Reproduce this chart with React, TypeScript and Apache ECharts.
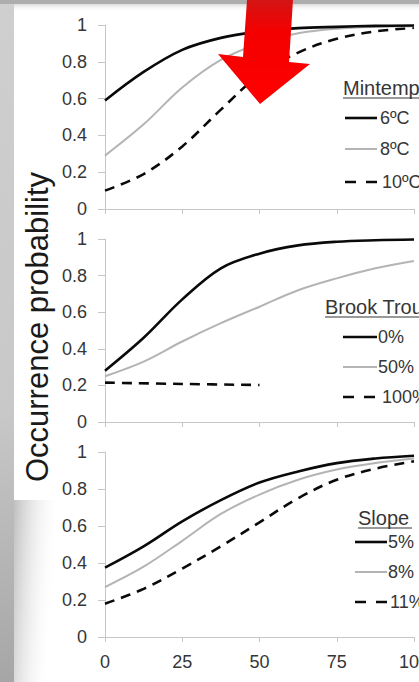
import React, { useEffect, useRef } from "react";
import * as echarts from "echarts";

// ---- data ----
const xValues = [0, 12.5, 25, 37.5, 50, 62.5, 75, 87.5, 100];
const mintemp6 = [0.59, 0.745, 0.865, 0.93, 0.965, 0.983, 0.99, 0.995, 0.997];
const mintemp8 = [0.29, 0.46, 0.66, 0.81, 0.9, 0.955, 0.98, 0.99, 0.993];
const mintemp10 = [0.1, 0.19, 0.34, 0.54, 0.73, 0.85, 0.925, 0.965, 0.985];
const trout0 = [0.28, 0.46, 0.67, 0.84, 0.92, 0.965, 0.985, 0.993, 0.997];
const trout50 = [0.25, 0.33, 0.44, 0.54, 0.63, 0.72, 0.785, 0.84, 0.88];
const trout100X = [0, 25, 50];
const trout100 = [0.215, 0.208, 0.202];
const slope5 = [0.375, 0.49, 0.625, 0.74, 0.835, 0.895, 0.94, 0.965, 0.98];
const slope8 = [0.27, 0.38, 0.52, 0.665, 0.77, 0.85, 0.905, 0.94, 0.965];
const slope11 = [0.18, 0.26, 0.37, 0.49, 0.62, 0.75, 0.85, 0.91, 0.95];

const legendTitles = ["Mintemp", "Brook Trout", "Slope"];
const mintempLabels = ["6ºC", "8ºC", "10ºC"];
const troutLabels = ["0%", "50%", "100%"];
const slopeLabels = ["5%", "8%", "11%"];
const yAxisTitle = "Occurrence probability";

const FONT = "Liberation Sans, Arial, sans-serif";
const TEXT = "#363636";
const BLACK = "#0a0a0a";
const GREY = "#b4b4b4";
const AXIS = "#c6c6c6";

const pairs = (xs: number[], ys: number[]) => xs.map((x, i) => [x, ys[i]]);

const styles = [
  { color: BLACK, width: 2.6, type: "solid" as any },
  { color: GREY, width: 2, type: "solid" as any },
  { color: BLACK, width: 2.6, type: [10, 7] as any },
];

export default function App() {
  const ref = useRef<HTMLDivElement>(null);
  useEffect(() => {
    if (!ref.current) return;
    const chart = echarts.init(ref.current, undefined, { renderer: "svg" });

    const grids = [
      { left: 105, top: 25, width: 309, height: 184 },
      { left: 105, top: 239, width: 309, height: 183 },
      { left: 105, top: 452, width: 309, height: 185 },
    ];

    const xAxes = grids.map((_, i) => ({
      gridIndex: i,
      type: "value",
      min: 0,
      max: 100,
      interval: 25,
      axisLine: { show: true, lineStyle: { color: AXIS, width: 1 } },
      axisTick: { show: true, length: 5, lineStyle: { color: AXIS } },
      axisLabel: {
        show: i === 2,
        margin: 16,
        fontSize: 18,
        color: TEXT,
        fontFamily: FONT,
        hideOverlap: false,
      },
      splitLine: { show: false },
    }));

    const yAxes = grids.map((_, i) => ({
      gridIndex: i,
      type: "value",
      min: 0,
      max: 1,
      interval: 0.2,
      axisLine: { show: true, lineStyle: { color: AXIS, width: 1 } },
      axisTick: { show: true, length: 7, lineStyle: { color: AXIS } },
      axisLabel: {
        margin: 18,
        fontSize: 18,
        color: TEXT,
        fontFamily: FONT,
      },
      splitLine: { show: false },
    }));

    const panels = [
      [pairs(xValues, mintemp6), pairs(xValues, mintemp8), pairs(xValues, mintemp10)],
      [pairs(xValues, trout0), pairs(xValues, trout50), pairs(trout100X, trout100)],
      [pairs(xValues, slope5), pairs(xValues, slope8), pairs(xValues, slope11)],
    ];
    const series: any[] = [];
    panels.forEach((p, gi) => {
      p.forEach((data, si) => {
        series.push({
          type: "line",
          xAxisIndex: gi,
          yAxisIndex: gi,
          data,
          showSymbol: false,
          symbol: "none",
          smooth: 0.35,
          lineStyle: { ...styles[si] },
          z: 5 - si,
        });
      });
    });

    const legendDefs = [
      { title: legendTitles[0], labels: mintempLabels, titleX: 343, titleY: 88, ulEnd: 440, rows: [118, 149, 182], lx1: 345, lx2: 377, tx: [380, 380, 382] },
      { title: legendTitles[1], labels: troutLabels, titleX: 325, titleY: 307, ulEnd: 440, rows: [337, 367, 397], lx1: 343, lx2: 377, tx: [378, 378, 382] },
      { title: legendTitles[2], labels: slopeLabels, titleX: 358, titleY: 518, ulEnd: 412, rows: [542, 572, 602], lx1: 355, lx2: 387, tx: [388, 388, 390] },
    ];
    const graphics: any[] = [];
    graphics.push({
      type: "rect",
      shape: { x: 0, y: 0, width: 14, height: 682 },
      style: {
        fill: new echarts.graphic.LinearGradient(0, 0, 0, 1, [
          { offset: 0, color: "#cfcfcf" },
          { offset: 0.6, color: "#c8c8c8" },
          { offset: 1, color: "#a6a6a6" },
        ]),
      },
      silent: true,
    });
    graphics.push({
      type: "rect",
      shape: { x: 0, y: 0, width: 419, height: 4 },
      style: { fill: "#adadad" },
      silent: true,
    });
    graphics.push({
      type: "rect",
      shape: { x: 14, y: 4, width: 405, height: 8 },
      style: {
        fill: new echarts.graphic.LinearGradient(0, 0, 0, 1, [
          { offset: 0, color: "rgba(205,205,205,0.7)" },
          { offset: 1, color: "rgba(255,255,255,0)" },
        ]),
      },
      silent: true,
    });
    graphics.push({
      type: "rect",
      shape: { x: 14, y: 500, width: 44, height: 182 },
      style: {
        fill: new echarts.graphic.LinearGradient(0, 0, 1, 0.25, [
          { offset: 0, color: "rgba(170,170,170,0.75)" },
          { offset: 1, color: "rgba(255,255,255,0)" },
        ]),
      },
      silent: true,
    });

    legendDefs.forEach((d) => {
      graphics.push({
        type: "text",
        x: d.titleX,
        y: d.titleY,
        style: {
          text: d.title,
          font: `20px ${FONT}`,
          fill: TEXT,
          textVerticalAlign: "middle",
          textAlign: "left",
        },
      });
      graphics.push({
        type: "line",
        shape: { x1: d.titleX, y1: d.titleY + 10, x2: d.ulEnd, y2: d.titleY + 10 },
        style: { stroke: TEXT, lineWidth: 1.2 },
      });
      d.labels.forEach((lab, i) => {
        const st = styles[i];
        graphics.push({
          type: "line",
          shape: { x1: d.lx1, y1: d.rows[i], x2: d.lx2, y2: d.rows[i] },
          style: {
            stroke: st.color,
            lineWidth: st.width,
            lineDash: i === 2 ? [11, 10] : null,
          },
        });
        graphics.push({
          type: "text",
          x: d.tx[i],
          y: d.rows[i],
          style: {
            text: lab,
            font: `18px ${FONT}`,
            fill: TEXT,
            textVerticalAlign: "middle",
            textAlign: "left",
          },
        });
      });
    });

    graphics.push({
      type: "text",
      x: 37,
      y: 327,
      rotation: Math.PI / 2,
      style: {
        text: yAxisTitle,
        font: `31px ${FONT}`,
        fill: "#1a1a1a",
        textAlign: "center",
        textVerticalAlign: "middle",
      },
    });

    graphics.push({
      type: "polygon",
      z: 100,
      shape: {
        points: [
          [247, 0],
          [293, 0],
          [289, 62],
          [310, 64],
          [260, 104],
          [218, 54],
          [243, 57],
        ],
      },
      style: {
        fill: new echarts.graphic.LinearGradient(0, 0, 0, 1, [
          { offset: 0, color: "#d41414" },
          { offset: 0.3, color: "#f40000" },
          { offset: 1, color: "#ff0000" },
        ]),
      },
    });

    chart.setOption({
      animation: false,
      backgroundColor: "#ffffff",
      grid: grids.map((g) => ({ ...g, containLabel: false, outerBoundsMode: "none" })),
      xAxis: xAxes,
      yAxis: yAxes,
      series,
      graphic: graphics,
    } as any);

    return () => chart.dispose();
  }, []);

  return (
    <div
      ref={ref}
      style={{ position: "absolute", left: 0, top: 0, width: 419, height: 682 }}
    />
  );
}
